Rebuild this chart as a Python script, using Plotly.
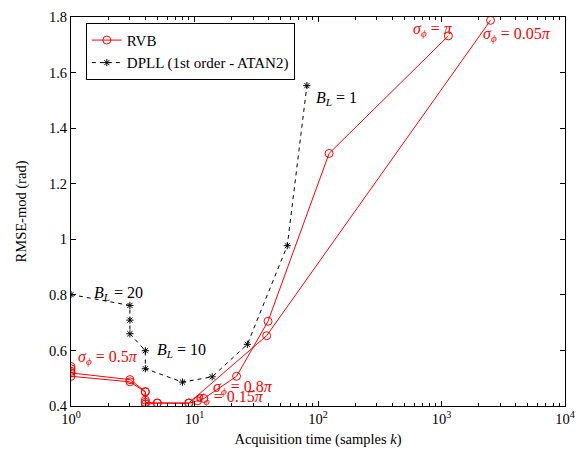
import plotly.graph_objects as go

# RVB curves (acquisition time in samples, RMSE-mod in rad)
rvb_a_x = [1, 3, 4, 4, 5, 9, 38.4, 2494]
rvb_a_y = [0.507, 0.487, 0.45, 0.413, 0.411, 0.411, 0.653, 1.788]
rvb_b_x = [1, 1, 1, 1, 3, 4, 4, 4, 5, 9, 10.6, 11.9, 21.9, 39.4, 123, 1137]
rvb_b_y = [0.542, 0.534, 0.525, 0.519, 0.495, 0.452, 0.421, 0.407, 0.41, 0.41,
           0.419, 0.427, 0.507, 0.705, 1.309, 1.732]

# DPLL (1st order - ATAN2)
dpll_x = [1, 3, 3, 3, 4, 4, 8, 13.9, 26.8, 56.4, 81.3]
dpll_y = [0.801, 0.762, 0.709, 0.660, 0.599, 0.534, 0.486, 0.505, 0.622, 0.977, 1.553]

xtick_vals = [1, 10, 100, 1000, 10000]
xtick_text = ["10<sup>0</sup>", "10<sup>1</sup>", "10<sup>2</sup>", "10<sup>3</sup>", "10<sup>4</sup>"]
ytick_vals = [0.4, 0.6, 0.8, 1.0, 1.2, 1.4, 1.6, 1.8]
ytick_text = ["0.4", "0.6", "0.8", "1", "1.2", "1.4", "1.6", "1.8"]

# annotation labels: (log10 x, y, text)
label_x = [0.381, 0.897, 2.147, 0.298, 1.39, 1.29, 2.93, 3.611]
label_y = [0.805, 0.601, 1.506, 0.576, 0.467, 0.431, 1.754, 1.736]
label_text = ["<i>B</i><sub><i>L</i></sub> = 20", "<i>B</i><sub><i>L</i></sub> = 10",
              "<i>B</i><sub><i>L</i></sub> = 1",
              "<i>σ</i><sub><i>ϕ</i></sub> = 0.5<i>π</i>", "<i>σ</i><sub><i>ϕ</i></sub> = 0.8<i>π</i>",
              "<i>σ</i><sub><i>ϕ</i></sub> = 0.15<i>π</i>", "<i>σ</i><sub><i>ϕ</i></sub> = <i>π</i>",
              "<i>σ</i><sub><i>ϕ</i></sub> = 0.05<i>π</i>"]

RED = "#ff0000"
FONT = "Liberation Serif"
label_color = ["black", "black", "black", RED, RED, RED, RED, RED]

fig = go.Figure()
fig.add_trace(go.Scatter(x=rvb_a_x, y=rvb_a_y, mode="lines+markers", name="RVB",
                         line=dict(color=RED, width=1),
                         marker=dict(symbol="circle-open", size=8, color=RED, line=dict(width=1))))
fig.add_trace(go.Scatter(x=rvb_b_x, y=rvb_b_y, mode="lines+markers", name="RVB", showlegend=False,
                         line=dict(color=RED, width=1),
                         marker=dict(symbol="circle-open", size=8, color=RED, line=dict(width=1))))
fig.add_trace(go.Scatter(x=dpll_x, y=dpll_y, mode="lines+markers", name="DPLL (1st order - ATAN2)",
                         line=dict(color="black", width=1, dash="4px,4px"),
                         marker=dict(symbol="asterisk-open", size=6, color="black",
                                     line=dict(width=1, color="black"))))

for ax, ay, txt, col in zip(label_x, label_y, label_text, label_color):
    fig.add_annotation(x=ax, y=ay, xref="x", yref="y", text=txt, showarrow=False,
                       font=dict(family=FONT, size=16, color=col), xanchor="center", yanchor="middle")

fig.update_layout(
    width=584, height=454,
    margin=dict(l=71, r=9, t=10, b=47),
    paper_bgcolor="white", plot_bgcolor="white",
    font=dict(family=FONT, size=14.5, color="black"),
    showlegend=True,
    legend=dict(x=0.03, y=0.985, xanchor="left", yanchor="top",
                bordercolor="black", borderwidth=1, bgcolor="white",
                font=dict(family=FONT, size=15), tracegroupgap=0, itemwidth=30),
)
fig.update_xaxes(type="log", range=[0, 4], tickvals=xtick_vals, ticktext=xtick_text,
                 ticks="inside", ticklen=5, tickcolor="black", showline=True, linecolor="black",
                 linewidth=1, mirror="ticks", showgrid=False, zeroline=False,
                 minor=dict(ticks="inside", ticklen=3, tickcolor="black", showgrid=False,
                            dtick="D1"),
                 title=dict(text="Acquisition time (samples <i>k</i>)", font=dict(size=14.5), standoff=7),
                 tickfont=dict(size=14.5))
fig.update_yaxes(range=[0.4, 1.8], tickvals=ytick_vals, ticktext=ytick_text,
                 ticks="inside", ticklen=5, tickcolor="black", showline=True, linecolor="black",
                 linewidth=1, mirror="ticks", showgrid=False, zeroline=False,
                 title=dict(text="RMSE-mod (rad)", font=dict(size=14.5), standoff=18),
                 tickfont=dict(size=14.5))

fig.write_html("out.html")
